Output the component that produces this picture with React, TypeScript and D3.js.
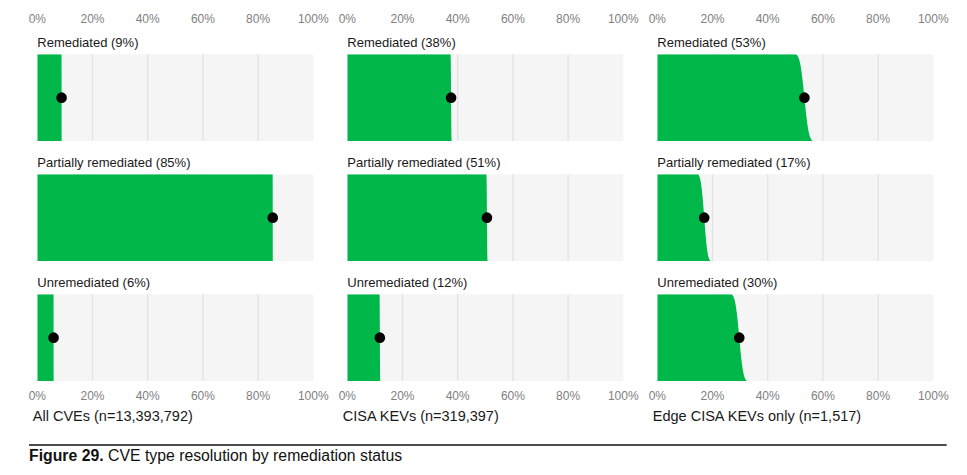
import React from "react";
import * as d3 from "d3";

const columns = ["All CVEs (n=13,393,792)", "CISA KEVs (n=319,397)", "Edge CISA KEVs only (n=1,517)"];
const sampleSizes = [13393792, 319397, 1517];
const statuses = ["Remediated", "Partially remediated", "Unremediated"];
const allCves = [8.8, 85.3, 5.9];
const cisaKevs = [37.6, 50.6, 11.8];
const edgeKevs = [53.3, 17.0, 29.7];
const ticks = [0, 20, 40, 60, 80, 100];
const caption = "CVE type resolution by remediation status";

const seriesByColumn = [allCves, cisaKevs, edgeKevs];

const W = 967;
const H = 475;
const GREEN = "#00b74a";
const FONT = "'Liberation Sans', Arial, sans-serif";

// inverse normal CDF (Acklam)
function probit(p: number): number {
  const a = [-3.969683028665376e1, 2.209460984245205e2, -2.759285104469687e2, 1.38357751867269e2, -3.066479806614716e1, 2.506628277459239];
  const b = [-5.447609879822406e1, 1.615858368580409e2, -1.556989798598866e2, 6.680131188771972e1, -1.328068155288572e1];
  const c = [-7.784894002430293e-3, -3.223964580411365e-1, -2.400758277161838, -2.549732539343734, 4.374664141464968, 2.938163982698783];
  const d = [7.784695709041462e-3, 3.224671290700398e-1, 2.445134137142996, 3.754408661907416];
  const pl = 0.02425;
  let q: number, r: number;
  if (p < pl) {
    q = Math.sqrt(-2 * Math.log(p));
    return (((((c[0] * q + c[1]) * q + c[2]) * q + c[3]) * q + c[4]) * q + c[5]) / ((((d[0] * q + d[1]) * q + d[2]) * q + d[3]) * q + 1);
  }
  if (p <= 1 - pl) {
    q = p - 0.5;
    r = q * q;
    return ((((((a[0] * r + a[1]) * r + a[2]) * r + a[3]) * r + a[4]) * r + a[5]) * q) / (((((b[0] * r + b[1]) * r + b[2]) * r + b[3]) * r + b[4]) * r + 1);
  }
  q = Math.sqrt(-2 * Math.log(1 - p));
  return -(((((c[0] * q + c[1]) * q + c[2]) * q + c[3]) * q + c[4]) * q + c[5]) / ((((d[0] * q + d[1]) * q + d[2]) * q + d[3]) * q + 1);
}

export default function App() {
  const colX = d3.scaleBand<string>().domain(columns).range([37.3, 933.3]).paddingInner(34 / 310);
  const rowY = d3.scaleBand<string>().domain(statuses).range([54.3, 381]).paddingInner(33.3 / 120);
  const pw = colX.bandwidth();
  const ph = rowY.bandwidth();
  const x = d3.scaleLinear().domain([0, 100]).range([0, pw]);
  const line = d3.line<[number, number]>().x((d) => d[0]).y((d) => d[1]);

  return (
    <svg width={W} height={H} style={{ position: "absolute", left: 0, top: 0, background: "#fff" }} fontFamily={FONT}>
      <defs>
        {columns.map((c, ci) =>
          statuses.map((s, ri) => (
            <clipPath id={`clip-${ci}-${ri}`} key={`${ci}-${ri}`}>
              <rect x={0} y={0} width={pw} height={ph} />
            </clipPath>
          ))
        )}
      </defs>
      {columns.map((col, ci) => {
        const x0 = colX(col)!;
        const n = sampleSizes[ci];
        const vals = seriesByColumn[ci];
        return (
          <g key={col} transform={`translate(${x0},0)`}>
            {ticks.map((t) => (
              <text key={`top${t}`} x={x(t)} y={23} textAnchor="middle" fontSize={12} fill="#808080">
                {t}%
              </text>
            ))}
            {ticks.map((t) => (
              <text key={`bot${t}`} x={x(t)} y={399.5} textAnchor="middle" fontSize={12} fill="#808080">
                {t}%
              </text>
            ))}
            <text x={-4.5} y={420.5} fontSize={14.5} fill="#1a1a1a">
              {col}
            </text>
            {statuses.map((s, ri) => {
              const y0 = rowY(s)!;
              const v = vals[ri];
              const p = v / 100;
              const se = Math.sqrt((p * (1 - p)) / n) * 100;
              const steps = d3.range(0, 61).map((i) => i / 60);
              const edge: [number, number][] = steps.map((t) => [x(v + se * probit(0.01 + 0.98 * t)), t * ph]);
              const pts: [number, number][] = [[0, 0], ...edge, [0, ph]];
              return (
                <g key={s}>
                  <text x={0} y={y0 - 7} fontSize={13} fill="#1a1a1a">
                    {s} ({Math.round(v)}%)
                  </text>
                  <g transform={`translate(0,${y0})`}>
                    <rect x={0} y={0} width={pw} height={ph} fill="#f5f5f5" />
                    {ticks.slice(1, -1).map((t) => (
                      <line key={t} x1={x(t)} x2={x(t)} y1={0} y2={ph} stroke="#e2e2e2" strokeWidth={1.3} />
                    ))}
                    <path d={line(pts) + "Z"} fill={GREEN} clipPath={`url(#clip-${ci}-${ri})`} />
                    <circle cx={x(v)} cy={ph / 2} r={5.3} fill="#000" />
                  </g>
                </g>
              );
            })}
          </g>
        );
      })}
      <line x1={29} x2={946.7} y1={445} y2={445} stroke="#111" strokeWidth={1.4} />
      <text x={29} y={460.7} fontSize={15.8} fill="#111">
        <tspan fontWeight="bold">Figure 29.</tspan> {caption}
      </text>
    </svg>
  );
}
